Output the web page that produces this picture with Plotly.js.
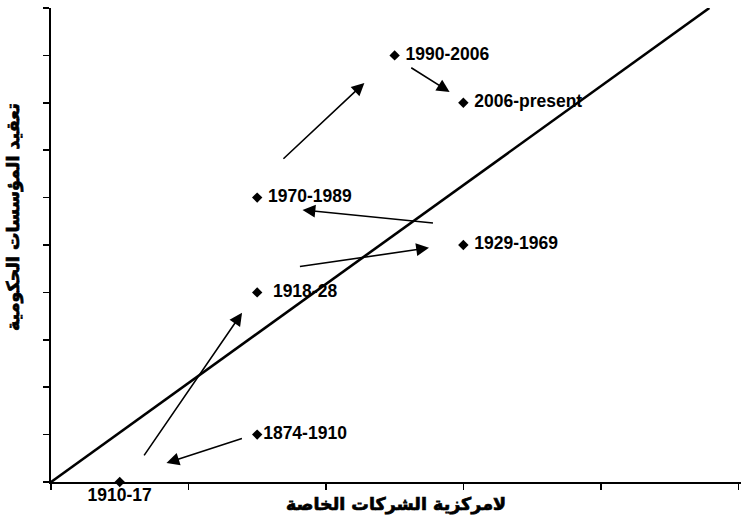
<!DOCTYPE html>
<html>
<head>
<meta charset="utf-8">
<script src="https://cdn.plot.ly/plotly-3.0.1.min.js"></script>
<style>
html,body{margin:0;padding:0;background:#fff;}
#chart{width:741px;height:520px;}
.xtitle, .annotation-text-g text.ytitle-ann, .ytitle-wrap text{stroke:#000;stroke-width:0.7px;}
</style>
</head>
<body>
<div id="chart"></div>
<script>
// Periods (points)
const periods = ["1910-17", "1874-1910", "\u00a0\u00a01918-28", "\u00a01929-1969", "\u00a01970-1989", "\u00a01990-2006", "\u00a02006-present"];
const decentralization = [0.5, 1.5, 1.5, 3, 1.5, 2.5, 3];
const complexity = [0, 1, 4, 5, 6, 9, 8];

// Diagonal reference line
const diagX = [0, 4.79];
const diagY = [0, 10];

// Arrows: tail -> head
const arrowTailX = [0.67, 1.40, 1.80, 2.79, 1.68, 2.61];
const arrowTailY = [0.53, 0.93, 4.54, 5.46, 6.79, 8.76];
const arrowHeadX = [1.39, 0.84, 2.75, 1.83, 2.28, 2.90];
const arrowHeadY = [3.57, 0.40, 4.94, 5.74, 8.42, 8.23];

const xTitle = "لامركزية الشركات الخاصة";
const yTitle = "تعقيد المؤسسات الحكومية";

const labelFont = {family: "Liberation Sans, Arial, sans-serif", size: 17.5, color: "#000", weight: "bold"};
const titleFont = {family: "DejaVu Sans", size: 17.5, color: "#000", weight: "bold"};

const onAxis = periods.map((p, i) => complexity[i] === 0);

const traces = [
  {
    x: diagX, y: diagY, mode: "lines", type: "scatter",
    line: {color: "#000", width: 2.6}, hoverinfo: "skip", cliponaxis: false
  },
  {
    x: decentralization.filter((v, i) => !onAxis[i]),
    y: complexity.filter((v, i) => !onAxis[i]),
    text: periods.filter((v, i) => !onAxis[i]),
    mode: "markers+text", type: "scatter",
    marker: {symbol: "diamond", size: 8, color: "#000"},
    textposition: "middle right", textfont: labelFont, cliponaxis: false
  },
  {
    x: decentralization.filter((v, i) => onAxis[i]),
    y: complexity.filter((v, i) => onAxis[i]),
    text: periods.filter((v, i) => onAxis[i]),
    mode: "markers+text", type: "scatter",
    marker: {symbol: "diamond", size: 8, color: "#000"},
    textposition: "bottom center", textfont: labelFont, cliponaxis: false
  }
];

const annotations = arrowTailX.map((tx, i) => ({
  x: arrowHeadX[i], y: arrowHeadY[i], ax: tx, ay: arrowTailY[i],
  xref: "x", yref: "y", axref: "x", ayref: "y",
  text: "", showarrow: true, arrowhead: 2, arrowsize: 1.6, arrowwidth: 1.6, arrowcolor: "#000"
}));

// Y-axis title placed as a rotated annotation (shifted up like the original)
annotations.push({
  text: yTitle, textangle: -90, showarrow: false,
  xref: "paper", yref: "paper", x: -0.055, y: 0.559,
  xanchor: "center", yanchor: "middle", font: titleFont, name: "ytitle"
});

const layout = {
  width: 741, height: 520,
  margin: {l: 51, r: 0, t: 8, b: 38},
  paper_bgcolor: "#fff", plot_bgcolor: "#fff",
  showlegend: false,
  xaxis: {
    range: [0, 5.02], showgrid: false, zeroline: false,
    showline: true, linecolor: "#000", linewidth: 2,
    ticks: "outside", ticklen: 6, tickwidth: 1.5, tickcolor: "#000",
    tick0: 0, dtick: 1, showticklabels: false,
    title: {text: xTitle, font: titleFont, standoff: 9}
  },
  yaxis: {
    range: [0, 10], showgrid: false, zeroline: false,
    showline: true, linecolor: "#000", linewidth: 2,
    ticks: "outside", ticklen: 6, tickwidth: 1.5, tickcolor: "#000",
    tick0: 0, dtick: 1, showticklabels: false
  },
  annotations: annotations
};

Plotly.newPlot("chart", traces, layout, {displayModeBar: false, staticPlot: true}).then(() => {
  // thicken the Arabic y title like the x title
  document.querySelectorAll(".annotation-text").forEach(t => {
    if (t.textContent === yTitle) { t.style.stroke = "#000"; t.style.strokeWidth = "0.7px"; }
  });
});
</script>
</body>
</html>
